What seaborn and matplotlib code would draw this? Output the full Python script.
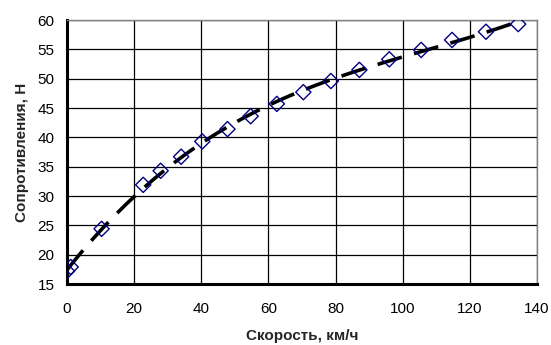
import matplotlib
matplotlib.use("Agg")
import matplotlib.pyplot as plt
import seaborn as sns
import pandas as pd

speed = [0.0, 1.1, 10.3, 22.7, 27.9, 34.0, 40.3, 47.8, 54.7, 62.5,
         70.4, 78.6, 87.1, 96.0, 105.5, 114.7, 124.8, 134.4]
resistance = [17.2, 17.9, 24.4, 31.9, 34.3, 36.7, 39.3, 41.4, 43.6, 45.7,
              47.7, 49.6, 51.5, 53.3, 54.9, 56.6, 58.0, 59.3]
x_ticks = [0, 20, 40, 60, 80, 100, 120, 140]
y_ticks = [15, 20, 25, 30, 35, 40, 45, 50, 55, 60]
x_label = "Скорость, км/ч"
y_label = "Сопротивления, Н"

df = pd.DataFrame({"speed": speed, "resistance": resistance})

sns.set_theme(style="white")
plt.rcParams["font.family"] = ["Liberation Sans", "DejaVu Sans"]

fig = plt.figure(figsize=(5.51, 3.45), dpi=100)
ax = fig.add_axes([67 / 551, 1 - 284 / 345, 470 / 551, 264 / 345])

sns.regplot(data=df, x="speed", y="resistance", order=3, ci=None, scatter=False,
            truncate=True, ax=ax,
            line_kws=dict(color="black", lw=2.6, ls=(0, (7, 3.5)), zorder=3))
sns.scatterplot(data=df, x="speed", y="resistance", marker="D", s=60,
                facecolor="none", edgecolor="#000080", linewidth=1.0, ax=ax, zorder=4)

ax.set_xlim(0, 140)
ax.set_ylim(15, 60)
ax.set_xticks(x_ticks)
ax.set_yticks(y_ticks)
ax.grid(True, color="black", lw=0.9)
ax.set_axisbelow(True)
ax.tick_params(axis="both", length=0, labelsize=11, colors="black")
ax.tick_params(axis="x", pad=13)
ax.tick_params(axis="y", pad=9)
for side in ["left", "bottom"]:
    ax.spines[side].set_color("black")
    ax.spines[side].set_linewidth(2.2)
for side in ["top", "right"]:
    ax.spines[side].set_color("#808080")
    ax.spines[side].set_linewidth(1.0)
ax.set_xlabel(x_label, fontsize=11, fontweight="bold", labelpad=9)
ax.set_ylabel(y_label, fontsize=11, fontweight="bold", labelpad=6)

fig.savefig("out.png", dpi=100)
